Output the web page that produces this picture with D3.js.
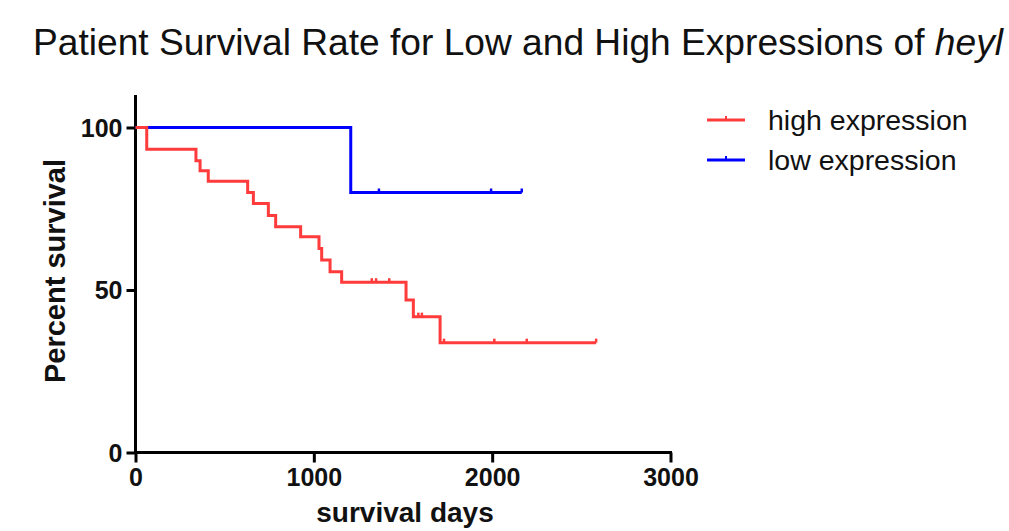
<!DOCTYPE html>
<html>
<head>
<meta charset="utf-8">
<script src="https://cdn.jsdelivr.net/npm/d3@7"></script>
<style>
  html, body { margin: 0; padding: 0; background: #fff; }
  svg { display: block; }
  text { font-family: "Liberation Sans", Arial, sans-serif; }
</style>
</head>
<body>
<svg id="chart" width="1009" height="531"></svg>
<script>
// ---- data ----
const highTimes = [0, 63, 339, 362, 408, 629, 661, 745, 786, 926, 1029, 1044, 1091, 1156, 1517, 1558, 1708, 2583];
const highSurv  = [100, 93.3, 89.8, 86.7, 83.5, 80.0, 76.6, 72.9, 69.5, 66.4, 62.8, 59.2, 55.6, 52.4, 46.9, 41.8, 33.8, 33.8];
const highCensor = [1325, 1349, 1423, 1586, 1606, 1730, 2012, 2194, 2583];

const lowTimes = [0, 1207, 2166];
const lowSurv  = [100, 80, 80];
const lowCensor = [1365, 1994, 2166];

const xTicks = [0, 1000, 2000, 3000];
const yTicks = [0, 50, 100];
const seriesNames = ["high expression", "low expression"];
const seriesColors = ["#ff3b3b", "#0000ff"];

// ---- layout ----
const svg = d3.select("#chart");
const x = d3.scaleLinear().domain([0, 3000]).range([135.5, 670.5]);
const y = d3.scaleLinear().domain([0, 110]).range([452.5, 95]);

// title
const title = svg.append("text")
  .attr("x", 33).attr("y", 55)
  .attr("font-size", 37)
  .attr("fill", "#111");
title.append("tspan").text("Patient Survival Rate for Low and High Expressions of ");
title.append("tspan").attr("font-style", "italic").text("heyl");
title.attr("textLength", 970).attr("lengthAdjust", "spacingAndGlyphs");

// axes
const gx = svg.append("g").attr("transform", `translate(0,${y(0)})`)
  .call(d3.axisBottom(x).tickValues(xTicks).tickSize(10).tickPadding(6).tickFormat(d3.format("d")));
const gy = svg.append("g").attr("transform", `translate(${x(0)},0)`)
  .call(d3.axisLeft(y).tickValues(yTicks).tickSize(9).tickPadding(4).tickFormat(d3.format("d")));

[gx, gy].forEach(g => {
  g.select(".domain").remove();
  g.selectAll(".tick line").attr("stroke", "#000").attr("stroke-width", 3);
  g.selectAll(".tick text").attr("font-size", 25).attr("font-weight", "bold").attr("fill", "#111")
    .attr("font-family", "'Liberation Sans', Arial, sans-serif");
});
gy.selectAll(".tick text").attr("dy", "0.35em");

// axis lines
svg.append("line").attr("x1", x(0)).attr("x2", x(0)).attr("y1", y(110)).attr("y2", y(0) + 1.5)
  .attr("stroke", "#000").attr("stroke-width", 3);
svg.append("line").attr("x1", x(0) - 1.5).attr("x2", x(3000) + 1.5).attr("y1", y(0)).attr("y2", y(0))
  .attr("stroke", "#000").attr("stroke-width", 3);

// axis titles
svg.append("text")
  .attr("transform", `translate(65,${271}) rotate(-90)`)
  .attr("text-anchor", "middle")
  .attr("font-size", 29).attr("font-weight", "bold").attr("fill", "#111")
  .text("Percent survival");
svg.append("text")
  .attr("x", 405).attr("y", 522)
  .attr("text-anchor", "middle")
  .attr("font-size", 28).attr("font-weight", "bold").attr("fill", "#111")
  .text("survival days");

// survival curves
const line = d3.line().curve(d3.curveStepAfter).x(d => x(d[0])).y(d => y(d[1]));
function stepAt(times, surv, t) {
  let v = surv[0];
  for (let i = 0; i < times.length; i++) if (times[i] <= t) v = surv[i];
  return v;
}
const series = [
  { times: lowTimes, surv: lowSurv, censor: lowCensor, color: seriesColors[1] },
  { times: highTimes, surv: highSurv, censor: highCensor, color: seriesColors[0] }
];
series.forEach(s => {
  const pts = s.times.map((t, i) => [t, s.surv[i]]);
  svg.append("path").datum(pts).attr("d", line)
    .attr("fill", "none").attr("stroke", s.color).attr("stroke-width", 3)
    .attr("stroke-linejoin", "miter");
  svg.append("g").selectAll("line").data(s.censor).join("line")
    .attr("x1", d => x(d)).attr("x2", d => x(d))
    .attr("y1", d => y(stepAt(s.times, s.surv, d)))
    .attr("y2", d => y(stepAt(s.times, s.surv, d)) - 4)
    .attr("stroke", s.color).attr("stroke-width", 2.5);
});

// legend
const legend = svg.append("g");
seriesNames.forEach((name, i) => {
  const ly = 120 + i * 40;
  legend.append("line").attr("x1", 707).attr("x2", 745).attr("y1", ly).attr("y2", ly)
    .attr("stroke", seriesColors[i]).attr("stroke-width", 3);
  legend.append("line").attr("x1", 726).attr("x2", 726).attr("y1", ly).attr("y2", ly - 4)
    .attr("stroke", seriesColors[i]).attr("stroke-width", 2);
  legend.append("text").attr("x", 768).attr("y", ly + 10)
    .attr("font-size", 28.5).attr("fill", "#111").text(name);
});
</script>
</body>
</html>
